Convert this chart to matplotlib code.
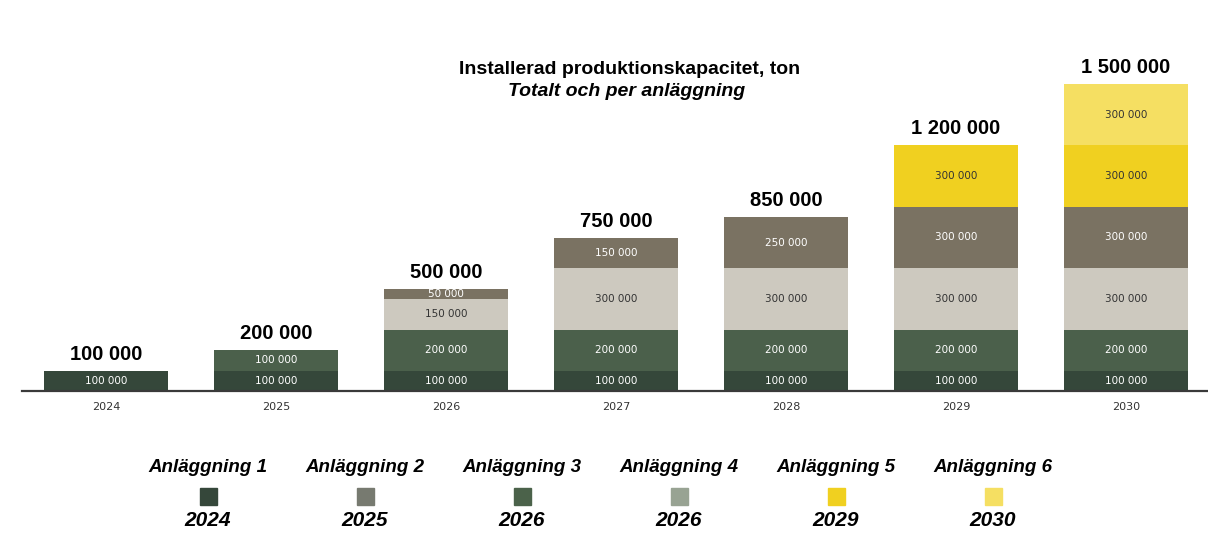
import matplotlib
matplotlib.use("Agg")
import matplotlib.pyplot as plt
from matplotlib.patches import Rectangle

years = ['2024', '2025', '2026', '2027', '2028', '2029', '2030']

# stacked layers, bottom to top
layer_dark = [100000, 100000, 100000, 100000, 100000, 100000, 100000]
layer_green = [0, 100000, 200000, 200000, 200000, 200000, 200000]
layer_light = [0, 0, 150000, 300000, 300000, 300000, 300000]
layer_taupe = [0, 0, 50000, 150000, 250000, 300000, 300000]
layer_yellow = [0, 0, 0, 0, 0, 300000, 300000]
layer_pale = [0, 0, 0, 0, 0, 0, 300000]

layers = [layer_dark, layer_green, layer_light, layer_taupe, layer_yellow, layer_pale]
layer_colors = ['#35473a', '#4b604b', '#cdc9bf', '#7a7262', '#f0d020', '#f5df62']
text_colors = ['white', 'white', '#333333', 'white', '#333333', '#333333']

leg_labels = ['Anläggning 1', 'Anläggning 2', 'Anläggning 3',
              'Anläggning 4', 'Anläggning 5', 'Anläggning 6']
leg_years = ['2024', '2025', '2026', '2026', '2029', '2030']
leg_colors = ['#35473a', '#777a70', '#4b624a', '#98a393', '#f0d020', '#f5df62']


def fmt(v):
    return f"{v:,}".replace(',', ' ')


W, H = 1208, 556
fig = plt.figure(figsize=(W / 100, H / 100), dpi=100)
ax = fig.add_axes([22 / W, 1 - 391 / H, 1185 / W, 391 / H])

x = list(range(len(years)))
bottom = [0] * len(years)
for vals, col, tcol in zip(layers, layer_colors, text_colors):
    ax.bar(x, vals, width=0.73, bottom=bottom, color=col, linewidth=0)
    for i, v in enumerate(vals):
        if v > 0:
            ax.text(i, bottom[i] + v / 2, fmt(v), ha='center', va='center',
                    fontsize=7.5, color=tcol, family='DejaVu Sans')
    bottom = [b + v for b, v in zip(bottom, vals)]

for i, tot in enumerate(bottom):
    ax.annotate(fmt(tot), (i, tot), xytext=(0, 5), textcoords='offset points',
                ha='center', va='bottom', fontsize=14.5, fontweight='bold',
                family='Liberation Sans', color='black')

ax.set_xlim(-0.497, 6.477)
ax.set_ylim(0, 391 / 307 * 1500000)
ax.axhline(0, color='#3a3a3a', lw=1.6, clip_on=False)
for s in ax.spines.values():
    s.set_visible(False)
ax.set_yticks([])
ax.set_xticks(x)
ax.set_xticklabels(years, fontsize=8, color='#333333', family='DejaVu Sans')
ax.tick_params(axis='x', length=0, pad=8)

fig.text(630 / W, 1 - 70 / H, 'Installerad produktionskapacitet, ton',
         ha='center', va='center', fontsize=14, fontweight='bold',
         family='Liberation Sans')
fig.text(627 / W, 1 - 91 / H, 'Totalt och per anläggning',
         ha='center', va='center', fontsize=14, fontweight='bold',
         style='italic', family='Liberation Sans')

# legend drawn by hand
for i in range(len(leg_labels)):
    cx = 208 + 157 * i
    fig.text(cx / W, 1 - 467 / H, leg_labels[i], ha='center', va='center',
             fontsize=13.5, fontweight='bold', style='italic',
             family='Liberation Sans')
    fig.add_artist(Rectangle(((cx - 8.5) / W, 1 - 505 / H), 17 / W, 17 / H,
                             transform=fig.transFigure, color=leg_colors[i]))
    fig.text(cx / W, 1 - 520 / H, leg_years[i], ha='center', va='center',
             fontsize=15, fontweight='bold', style='italic',
             family='Liberation Sans')

fig.savefig('out.png', dpi=100)
